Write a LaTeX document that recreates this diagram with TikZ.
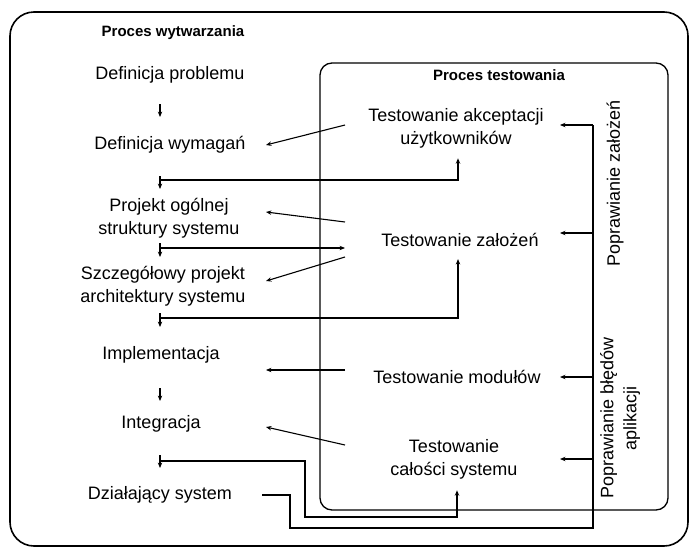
\documentclass[tikz,border=0pt]{standalone}
\usepackage{fontspec}
\setmainfont{Liberation Sans}
\usetikzlibrary{calc, arrows.meta}

\begin{document}
\begin{tikzpicture}[x=0.5pt, y=-0.5pt, >={Stealth[length=2.7pt, width=2.2pt]},
    txt/.style={font=\fontsize{9}{11.5}\selectfont, align=center, inner sep=0pt},
    head/.style={font=\fontsize{7.5}{9}\selectfont\bfseries, inner sep=0pt},
    flow/.style={line width=0.55pt, ->}]
  \useasboundingbox (0,0) rectangle (690,552);

  % Frames of both processes
  \draw[line width=0.8pt, rounded corners=12pt] (10,12) rectangle (688,546);
  \draw[line width=0.65pt, rounded corners=6pt] (320,63) rectangle (668,510);

  % Development process
  \node[head] (pw) at (173,33) {Proces wytwarzania};
  \node[txt] (dp) at (170,75) {Definicja problemu};
  \node[txt] (dw) at (170,145) {Definicja wymagań};
  \node[txt] (po) at (169,218) {Projekt ogólnej\\struktury systemu};
  \node[txt] (sz) at (163,286) {Szczegółowy projekt\\architektury systemu};
  \node[txt] (im) at (161,355) {Implementacja};
  \node[txt] (in) at (161,424) {Integracja};
  \node[txt] (ds) at (160,495) {Działający system};

  % Testing process
  \node[head] (pt) at (499,75) {Proces testowania};
  \node[txt] (ta) at (456,128) {Testowanie akceptacji\\użytkowników};
  \node[txt] (tz) at (460,240) {Testowanie założeń};
  \node[txt] (tm) at (457,377) {Testowanie modułów};
  \node[txt] (tc) at (454,459) {Testowanie\\całości systemu};
  \node[txt, rotate=90] (pz) at (615,183) {Poprawianie założeń};
  \node[txt, rotate=90] (pb) at (620,418) {Poprawianie błędów\\aplikacji};

  % Columns, junctions and bends
  \coordinate (rin) at (345,0);
  \coordinate (lout) at (266,0);
  \coordinate (fix) at (560,0);
  \coordinate (s1) at (160,104);  \coordinate (t1) at (160,117);
  \coordinate (s2) at (160,176);  \coordinate (t2) at (160,189);
  \coordinate (s3) at (160,243);  \coordinate (t3) at (160,257);
  \coordinate (s4) at (160,313);  \coordinate (t4) at (160,327);
  \coordinate (s5) at (160,388);  \coordinate (t5) at (160,401);
  \coordinate (s6) at (160,455);  \coordinate (t6) at (160,468);
  \coordinate (j2) at (160,180);
  \coordinate (j3) at (160,248);
  \coordinate (j4) at (160,318);
  \coordinate (j6) at (160,461);
  \coordinate (b1) at (305,517);
  \coordinate (b2) at (290,528);
  \coordinate (fb) at (593,125);

  % Steps of development
  \draw[flow] (s1) -- (t1);
  \draw[flow] (s2) -- (t2);
  \draw[flow] (s3) -- (t3);
  \draw[flow] (s4) -- (t4);
  \draw[flow] (s5) -- (t5);
  \draw[flow] (s6) -- (t6);

  % Results handed over to testing
  \draw[flow] (j2) -| ($(ta.south)+(2,10)$);
  \draw[flow] (j3) -- (j3 -| rin);
  \draw[flow] (j4) -| ($(tz.south)+(-2,12)$);
  \draw[flow] (j6) -| (b1) -| ($(tc.south)+(3,11)$);

  % Tests checking the development steps
  \draw[flow] ($(ta.west -| rin)+(0,-3)$) -- (dw.east -| lout);
  \draw[flow] ($(tz.west -| rin)+(0,-18)$) -- ($(po.east -| lout)+(0,-6)$);
  \draw[flow] ($(tz.west -| rin)+(0,17)$) -- ($(sz.east -| lout)+(0,-5)$);
  \draw[flow] ($(tm.west -| rin)+(0,-7)$) -- ($(im.east -| lout)+(0,15)$);
  \draw[flow] ($(tc.west -| rin)+(0,-14)$) -- ($(in.east -| lout)+(0,3)$);

  % Feedback from the running system
  \draw[line width=0.55pt, shorten <=15pt] (ds.east) -| (b2) -| (fb);
  \draw[flow] ($(ta.east -| fb)+(0,-3)$) -- ($(ta.east -| fix)+(0,-3)$);
  \draw[flow] ($(tz.east -| fb)+(0,-7)$) -- ($(tz.east -| fix)+(0,-7)$);
  \draw[flow] (tm.east -| fb) -- (tm.east -| fix);
  \draw[flow] (tc.east -| fb) -- (tc.east -| fix);
\end{tikzpicture}
\end{document}
